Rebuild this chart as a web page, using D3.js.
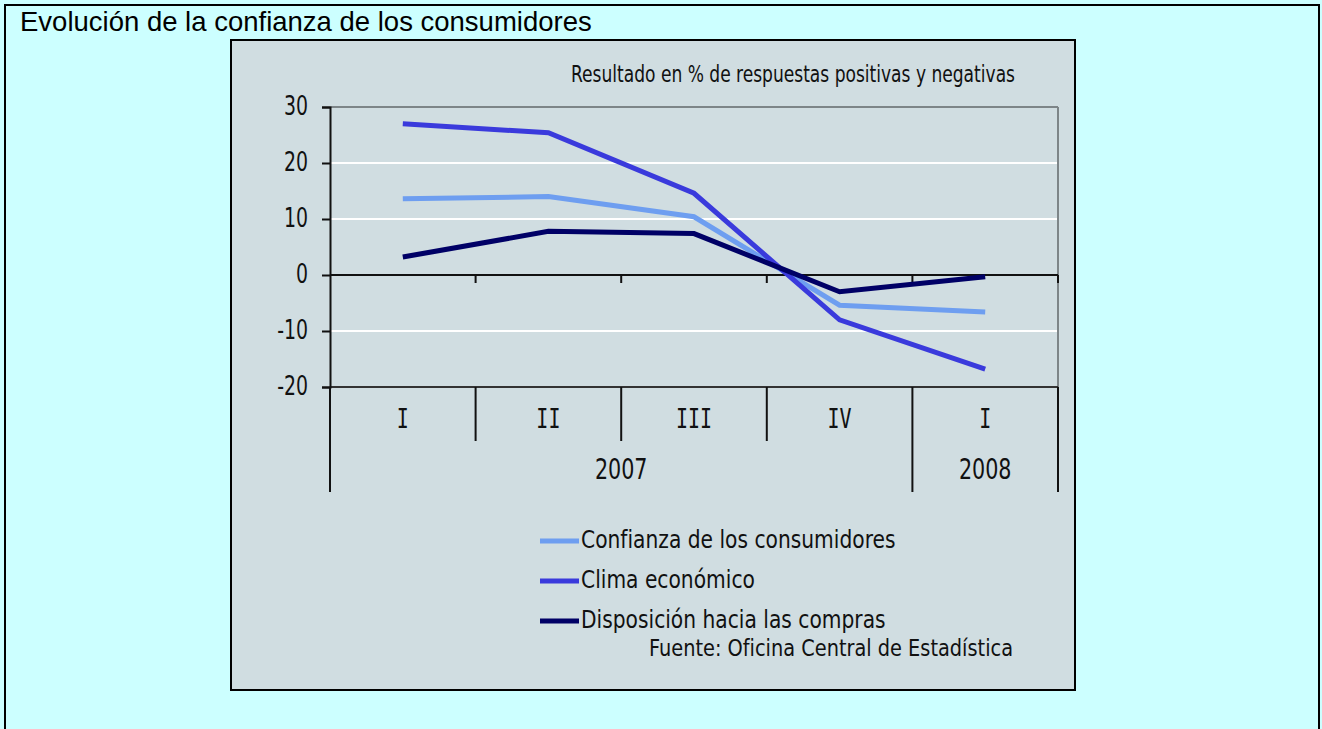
<!DOCTYPE html>
<html lang="es">
<head>
<meta charset="UTF-8">
<title>Evolución de la confianza de los consumidores</title>
<style>
  html, body { margin: 0; padding: 0; background: #ccffff; }
  svg { display: block; }
  .narrow { font-family: "DejaVu Sans", sans-serif; font-stretch: condensed; fill: #111; }
  .mono { font-family: "DejaVu Sans Mono", monospace; fill: #111; }
</style>
</head>
<body>
<svg id="svg" width="1322" height="729"></svg>
<script src="https://d3js.org/d3.v7.min.js"></script>
<script>
// quarters on the x axis
const quarters = ["2007-I", "2007-II", "2007-III", "2007-IV", "2008-I"];
const quarterLabels = ["I", "II", "III", "IV", "I"];
const years = [
  { label: "2007", from: "2007-I", to: "2007-IV" },
  { label: "2008", from: "2008-I", to: "2008-I" }
];
const yTicks = [-20, -10, 0, 10, 20, 30];

// series values (% balance of answers)
const confianza = [13.6, 14.0, 10.4, -5.4, -6.6];
const clima = [27.0, 25.4, 14.6, -8.0, -16.8];
const disposicion = [3.2, 7.8, 7.4, -3.0, -0.3];

const series = [
  { name: "Confianza de los consumidores", values: confianza, color: "#6e9ef0" },
  { name: "Clima económico", values: clima, color: "#3a3adc" },
  { name: "Disposición hacia las compras", values: disposicion, color: "#000066" }
];

const svg = d3.select("#svg");

// outer frame + page title
svg.append("rect")
  .attr("x", 5).attr("y", 5).attr("width", 1314).attr("height", 760)
  .attr("fill", "#ccffff").attr("stroke", "#000").attr("stroke-width", 2);

svg.append("text")
  .attr("x", 20).attr("y", 31)
  .style("font-family", "'Liberation Sans', Arial, sans-serif")
  .style("font-size", "27.5px")
  .text("Evolución de la confianza de los consumidores");

// chart picture box
svg.append("rect")
  .attr("x", 231).attr("y", 40).attr("width", 844).attr("height", 650)
  .attr("fill", "#d0dde1").attr("stroke", "#000").attr("stroke-width", 2);

// tall narrow text helper
function label(x, y, txt, size, anchor, cls, sy) {
  return svg.append("text")
    .attr("class", cls || "narrow")
    .attr("transform", `translate(${x},${y}) scale(1,${sy || 1.2})`)
    .attr("text-anchor", anchor || "start")
    .style("font-size", size + "px")
    .text(txt);
}

const xscale = d3.scaleBand().domain(quarters).range([330, 1058]);
const yscale = d3.scaleLinear().domain([-20, 30]).range([387, 107]);
const cx = q => xscale(q) + xscale.bandwidth() / 2;

label(1015, 82, "Resultado en % de respuestas positivas y negativas", 19, "end");

// grid lines
svg.append("g")
  .selectAll("line")
  .data(yTicks.filter(d => d !== 0 && d !== -20 && d !== 30))
  .join("line")
  .attr("x1", 330).attr("x2", 1058)
  .attr("y1", d => yscale(d)).attr("y2", d => yscale(d))
  .attr("stroke", "#fff").attr("stroke-width", 2);

// plot frame top / right / bottom
svg.append("line")
  .attr("x1", 330).attr("x2", 1058).attr("y1", yscale(30)).attr("y2", yscale(30))
  .attr("stroke", "#7d8588").attr("stroke-width", 2);
svg.append("line")
  .attr("x1", 1058).attr("x2", 1058).attr("y1", yscale(30)).attr("y2", yscale(-20))
  .attr("stroke", "#7d8588").attr("stroke-width", 2);
svg.append("line")
  .attr("x1", 330).attr("x2", 1058).attr("y1", yscale(-20)).attr("y2", yscale(-20))
  .attr("stroke", "#333").attr("stroke-width", 2);

// zero axis with ticks between quarters
const bounds = quarters.slice(1).map(q => xscale(q)).concat([1058]);
svg.append("line")
  .attr("x1", 330).attr("x2", 1058).attr("y1", yscale(0)).attr("y2", yscale(0))
  .attr("stroke", "#111").attr("stroke-width", 2);
svg.append("g")
  .selectAll("line")
  .data(bounds)
  .join("line")
  .attr("x1", d => d).attr("x2", d => d)
  .attr("y1", yscale(0)).attr("y2", yscale(0) + 8)
  .attr("stroke", "#111").attr("stroke-width", 2);

// left axis
const leftAxis = d3.axisLeft(yscale)
  .tickValues(yTicks)
  .tickSize(8)
  .tickPadding(14)
  .tickFormat(d => String(d));
const ag = svg.append("g")
  .attr("transform", "translate(330,0)")
  .call(leftAxis);
ag.select(".domain").attr("stroke", "#111").attr("stroke-width", 2);
ag.selectAll(".tick line").attr("stroke", "#111").attr("stroke-width", 2);
ag.selectAll(".tick text")
  .attr("class", "narrow")
  .attr("fill", "#111")
  .style("font-size", "21px")
  .attr("transform", "scale(1,1.3)")
  .attr("dy", "0.28em");

// category separators below the plot
const yearStarts = years.map(y => xscale(y.from)).concat([1058]);
svg.append("g")
  .selectAll("line")
  .data(quarters.map(q => xscale(q)).concat([1058]))
  .join("line")
  .attr("x1", d => d).attr("x2", d => d)
  .attr("y1", yscale(-20))
  .attr("y2", d => yearStarts.some(s => Math.abs(s - d) < 1) ? 492 : 441)
  .attr("stroke", "#111").attr("stroke-width", 2);

quarters.forEach((q, i) => label(cx(q), 428, quarterLabels[i], 20, "middle", "mono", 1.3));
years.forEach(y => {
  const mid = (xscale(y.from) + xscale(y.to) + xscale.bandwidth()) / 2;
  label(mid, 479, y.label, 23, "middle", "narrow", 1.25);
});

// series lines
const line = d3.line()
  .x((d, i) => cx(quarters[i]))
  .y(d => yscale(d));

svg.append("g")
  .selectAll("path")
  .data(series)
  .join("path")
  .attr("fill", "none")
  .attr("stroke", d => d.color)
  .attr("stroke-width", 5)
  .attr("d", d => line(d.values));

// legend
const legendY = [541, 581, 621];
series.forEach((s, i) => {
  svg.append("line")
    .attr("x1", 540).attr("x2", 579)
    .attr("y1", legendY[i]).attr("y2", legendY[i])
    .attr("stroke", s.color).attr("stroke-width", 5);
  label(581, legendY[i] + 7, s.name, 22.5, "start", "narrow", 1.12);
});
label(1013, 656, "Fuente: Oficina Central de Estadística", 21.5, "end", "narrow", 1.1);
</script>
</body>
</html>
